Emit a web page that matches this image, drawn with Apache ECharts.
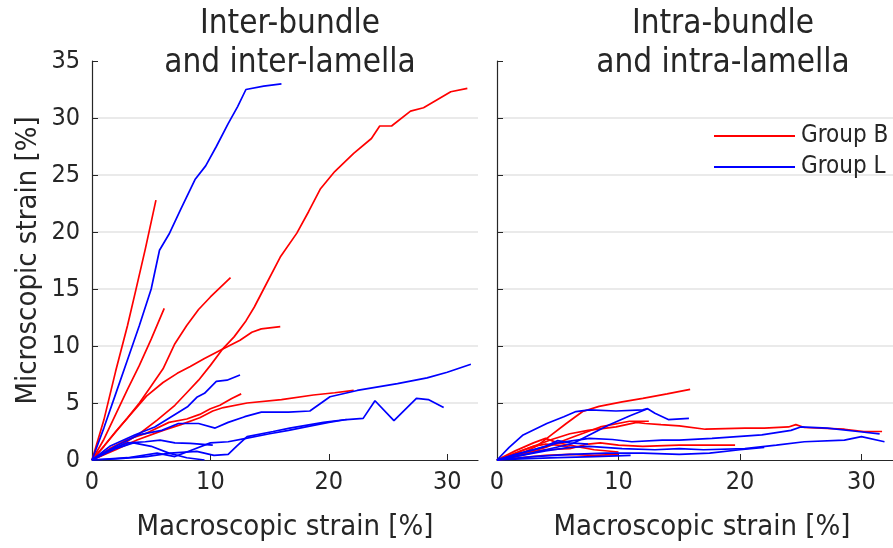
<!DOCTYPE html>
<html>
<head>
<meta charset="utf-8">
<script src="https://cdn.jsdelivr.net/npm/echarts@6/dist/echarts.min.js"></script>
<style>html,body{margin:0;padding:0;background:#fff}#c{width:893px;height:548px}</style>
</head>
<body>
<div id="c"></div>
<script>
// ---- data ----
const xTickValues = [0, 10, 20, 30];
const yTickValues = [0, 5, 10, 15, 20, 25, 30, 35];
const titleLeft = "Inter-bundle\nand inter-lamella";
const titleRight = "Intra-bundle\nand intra-lamella";
const xName = "Macroscopic strain [%]";
const yName = "Microscopic strain [%]";
const groupNames = ["Group B", "Group L"];

// Left panel: inter-bundle / inter-lamella, Group B (red)
const interB1 = [[0,0],[1,3.5],[2,7.8],[3,11.8],[3.7,14.9],[4.5,18.5],[5.4,22.8]];
const interB2 = [[0,0],[1,1.8],[2,4],[3,6.2],[4,8.3],[5,10.6],[6.1,13.3]];
const interB3 = [[0,0],[1,1.2],[2,2.5],[3,3.7],[4,5],[5,6.5],[6,8],[7,10.2],[8,11.8],[9,13.2],[10,14.3],[11.7,16]];
const interB4 = [[0,0],[2,1],[4,2.3],[5.5,3.5],[7,4.8],[8,5.9],[9,7],[10,8.3],[11,9.7],[12,10.8],[13,12.2],[13.7,13.4],[14.5,15],[15.9,17.8],[17.3,19.9],[18.3,21.8],[19.3,23.8],[20.5,25.3],[22.1,26.9],[23.6,28.2],[24.3,29.3],[25.3,29.3],[26.9,30.6],[28,30.9],[30.3,32.3],[31.7,32.6]];
const interB5 = [[0,0],[1,1.2],[2.6,3.2],[4.6,5.6],[6,6.8],[7.2,7.6],[8.3,8.2],[9.5,8.9],[10.8,9.6],[12.5,10.5],[13.5,11.2],[14.3,11.5],[15.9,11.7]];
const interB6 = [[0,0],[1.5,1.0],[3,1.8],[4.5,2.3],[6.5,3.3],[8,3.6],[9.1,4.0],[10,4.5],[10.8,4.8],[11.8,5.4],[12.6,5.8]];
const interB7 = [[0,0],[2,0.9],[3.8,1.75],[6,2.6],[7.5,3.1],[9.1,3.7],[10.2,4.3],[11.1,4.6],[13.1,5.0],[16,5.3],[18.7,5.7],[20.5,5.9],[22.1,6.1]];
// Left panel, Group L (blue)
const interL1 = [[0,0],[1,2.8],[2,5.8],[3,8.8],[4,11.8],[5,15],[5.7,18.4],[6.5,19.8],[7.5,22],[8.7,24.6],[9.6,25.8],[10.5,27.5],[11.5,29.5],[12.3,31],[13,32.5],[14.5,32.8],[16,33]];
const interL2 = [[0,0],[2,1.2],[3.9,2.2],[5.9,2.6],[7.3,3.2],[9,3.2],[10.4,2.8],[11.5,3.3],[12.9,3.8],[14.3,4.2],[16.6,4.2],[18.4,4.3],[20.1,5.55],[22.4,6.1],[25.8,6.7],[28.3,7.2],[30,7.7],[32,8.4]];
const interL3 = [[0,0],[2,0.1],[4.6,0.3],[6.6,0.6],[8.85,0.75],[10.3,0.4],[11.5,0.5],[12.2,1.2],[13.1,2.05],[15.3,2.5],[16.7,2.8],[19.55,3.3],[21.5,3.55],[22.9,3.65],[23.9,5.2],[25.5,3.45],[27.4,5.4],[28.4,5.3],[29.7,4.6]];
const interL4 = [[0,0],[1.5,1.2],[3.6,2.2],[5.3,2.9],[6.7,3.8],[8.1,4.7],[8.85,5.5],[9.5,5.85],[10.5,6.9],[11.4,7.0],[12.5,7.45]];
const interL5 = [[0,0],[3,0.2],[5.5,0.6],[7,0.3],[8.5,0.9],[10,1.5],[11.5,1.6],[13,1.9],[15,2.3],[16.6,2.6],[18.5,3.0],[20,3.3],[21.5,3.55]];
const interL6 = [[0,0],[1.5,0.9],[3,1.5],[4.5,1.6],[5.75,1.75],[7,1.5],[8.3,1.45],[10.2,1.3]];
const interL7 = [[0,0],[2,1.0],[3.5,1.5],[5,1.2],[6.5,0.6],[8,0.2],[9.5,0]];

// Right panel: intra-bundle / intra-lamella, Group B (red)
const intraB1 = [[0,0],[1.5,0.3],[3.25,1.2],[4.1,1.9],[5.7,3.2],[7.05,4.25],[8.4,4.7],[10.3,5.1],[12,5.4],[14,5.8],[15.9,6.2]];
const intraB2 = [[0,0],[1.5,0.6],[3,1.2],[4.5,1.8],[6,2.3],[7.5,2.6],[9.8,2.9],[11.5,3.3],[12.2,3.2],[13.5,3.1],[15,3.0],[17.15,2.7],[20.4,2.8],[22,2.8],[24,2.9],[24.6,3.1],[25.3,2.85],[28.6,2.7],[30.2,2.5],[31.7,2.5]];
const intraB3 = [[0,0],[2,0.6],[4,0.9],[6,1.0],[7.5,1.4],[8.5,1.5],[10,1.3],[12,1.2],[15,1.3],[19.6,1.3]];
const intraB4 = [[0,0],[1.5,0.8],[3,1.5],[4,1.9],[5,1.5],[6.5,1.2],[8,0.9],[10,0.7]];
const intraB5 = [[0,0],[2,0.5],[4,1.1],[6.2,2.0],[8.5,2.9],[10.9,3.4],[12.5,3.4]];
const intraB6 = [[0,0],[2,0.2],[4,0.4],[6,0.5],[8,0.4],[10,0.5]];
const intraB7 = [[0,0],[1,0.3],[2,0.8],[3,1.2],[4,1.4],[5,1.3],[6,1.1]];
// Right panel, Group L (blue)
const intraL1 = [[0,0],[1,1.1],[2.15,2.2],[4.1,3.2],[5.5,3.8],[6.5,4.25],[7.6,4.4],[9.8,4.3],[12,4.4],[12.4,4.5],[13,4.1],[14.1,3.55],[15.8,3.65]];
const intraL2 = [[0,0],[2,0.4],[4,0.9],[6.25,1.45],[7.6,2.2],[9.25,3.1],[11,3.9],[12.4,4.5]];
const intraL3 = [[0,0],[1.5,0.5],[3,0.9],[5,1.5],[7.6,1.9],[9.5,1.8],[11.1,1.6],[13.6,1.75],[15,1.75],[17.7,1.9],[21.8,2.2],[24.2,2.6],[25,2.9],[27.2,2.8],[29.7,2.5],[31.5,2.3]];
const intraL4 = [[0,0],[2,0.4],[4,0.8],[6,1.1],[7.6,1.2],[10.3,1.0],[13,0.9],[15,1.0],[17,0.9],[20.4,1.0],[23,1.3],[25.3,1.6],[28.6,1.75],[30,2.05],[31.9,1.6]];
const intraL5 = [[0,0],[3,0.3],[6,0.5],[9,0.6],[12,0.6],[15,0.5],[17.5,0.6],[20,0.9],[22,1.1]];
const intraL6 = [[0,0],[2,0.6],[4,1.2],[5,1.7],[6,1.5],[7.5,1.4]];
const intraL7 = [[0,0],[2,0.1],[5,0.2],[8,0.3],[11,0.4]];

const leftB = [interB1, interB2, interB3, interB4, interB5, interB6, interB7];
const leftL = [interL1, interL2, interL3, interL4, interL5, interL6, interL7];
const rightB = [intraB1, intraB2, intraB3, intraB4, intraB5, intraB6, intraB7];
const rightL = [intraL1, intraL2, intraL3, intraL4, intraL5, intraL6, intraL7];

// ---- styles ----
const RED = '#ff0000', BLUE = '#0000ff', INK = '#262626', GRID = '#e3e3e3';
const FONT = "'Liberation Sans Narrow', 'DejaVu Sans Condensed', 'Liberation Sans', sans-serif";

function mkX(idx, pad) {
  return {
    type: 'value', gridIndex: idx, min: 0, max: 32.6, interval: 10,
    name: xName, nameLocation: 'middle', nameGap: 53,
    nameTextStyle: {color: INK, fontSize: 29, fontFamily: FONT, padding: pad},
    axisLine: {show: true, lineStyle: {color: INK, width: 1.2}},
    axisTick: {show: true, inside: true, length: 6, lineStyle: {color: INK}, customValues: xTickValues},
    axisLabel: {color: INK, fontSize: 25, fontFamily: FONT, margin: 10, customValues: xTickValues},
    splitLine: {show: false}
  };
}
function mkY(idx, labels) {
  const o = {
    type: 'value', gridIndex: idx, min: 0, max: 35, interval: 5,
    axisLine: {show: true, lineStyle: {color: INK, width: 1.2}},
    axisTick: {show: true, inside: true, length: 6, lineStyle: {color: INK}},
    axisLabel: {show: labels, color: INK, fontSize: 25, fontFamily: FONT, margin: 12},
    splitLine: {show: true, showMinLine: false, showMaxLine: false, lineStyle: {color: GRID, width: 1.5}}
  };
  if (labels) {
    o.name = yName; o.nameLocation = 'middle'; o.nameGap = 49;
    o.nameTextStyle = {color: INK, fontSize: 29, fontFamily: FONT};
  }
  return o;
}
function mkSeries(list, name, color, gi) {
  return list.map(d => ({
    type: 'line', name: name, xAxisIndex: gi, yAxisIndex: gi, data: d,
    symbol: 'none', showSymbol: false, smooth: false,
    lineStyle: {color: color, width: 1.7}, itemStyle: {color: color},
    emphasis: {disabled: true}, silent: true
  }));
}

const chart = echarts.init(document.getElementById('c'), null, {renderer: 'canvas'});
chart.setOption({
  animation: false,
  backgroundColor: '#fff',
  title: [
    {text: titleLeft, left: 285, top: 0, textAlign: 'center',
     textStyle: {color: INK, fontSize: 33, fontWeight: 'normal', fontFamily: FONT, lineHeight: 39}},
    {text: titleRight, left: 718, top: 0, textAlign: 'center',
     textStyle: {color: INK, fontSize: 33, fontWeight: 'normal', fontFamily: FONT, lineHeight: 39}}
  ],
  legend: {
    data: groupNames.map(n => ({name: n, icon: 'rect'})),
    orient: 'vertical', left: 709, top: 119,
    itemWidth: 81, itemHeight: 2, itemGap: 7,
    textStyle: {color: INK, fontSize: 24, fontFamily: FONT, padding: [0, 0, 0, 1]},
    selectedMode: false
  },
  grid: [
    {left: 92, top: 61, width: 386, height: 399, containLabel: false},
    {left: 497, top: 61, width: 399, height: 399, containLabel: false}
  ],
  xAxis: [mkX(0, [0, 0, 0, 0]), mkX(1, [0, 0, 0, 14])],
  yAxis: [mkY(0, true), mkY(1, false)],
  series: [].concat(
    mkSeries(leftB, groupNames[0], RED, 0),
    mkSeries(leftL, groupNames[1], BLUE, 0),
    mkSeries(rightB, groupNames[0], RED, 1),
    mkSeries(rightL, groupNames[1], BLUE, 1)
  )
});
</script>
</body>
</html>
